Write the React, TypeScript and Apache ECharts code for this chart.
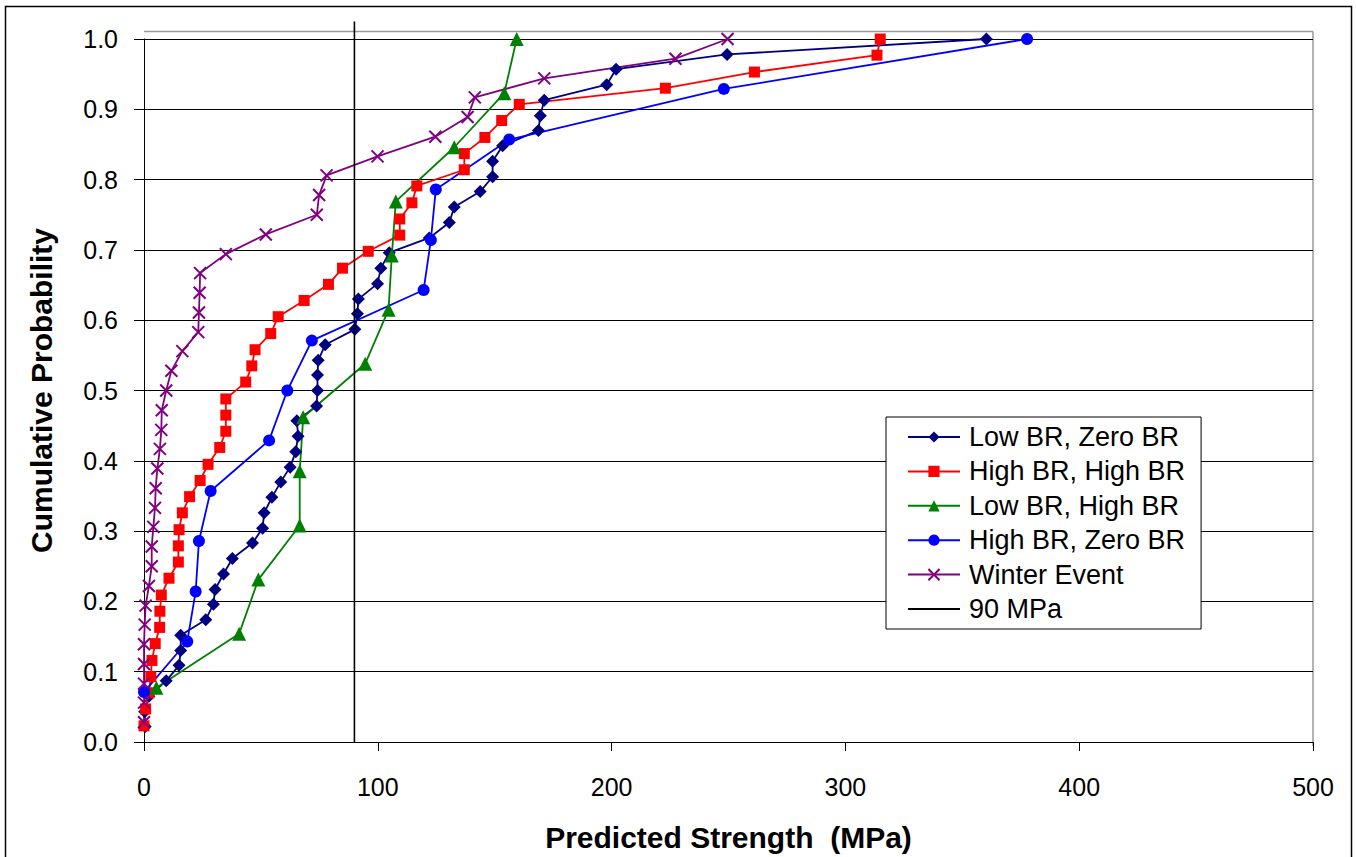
import React, { useEffect, useRef } from "react";
import * as echarts from "echarts";

const xTicks = ["0", "100", "200", "300", "400", "500"];

const lowZeroX = [0.5, 0.3, 2.1, 9.5, 15.0, 15.7, 15.7, 26.4, 29.7, 30.4, 34.0, 37.8, 46.4, 50.7, 51.4, 54.7, 58.5, 62.5, 64.9, 65.9, 65.4, 73.8, 74.2, 74.2, 74.5, 77.5, 90.2, 91.3, 91.7, 99.9, 101.3, 104.9, 122.0, 130.6, 132.7, 143.8, 149.1, 149.1, 153.4, 168.7, 169.5, 171.2, 197.9, 201.9, 249.4, 360.3];
const lowZeroP = [0.022, 0.043, 0.065, 0.087, 0.109, 0.130, 0.152, 0.174, 0.196, 0.217, 0.239, 0.261, 0.283, 0.304, 0.326, 0.348, 0.370, 0.391, 0.413, 0.435, 0.457, 0.478, 0.500, 0.522, 0.543, 0.565, 0.587, 0.609, 0.630, 0.652, 0.674, 0.696, 0.717, 0.739, 0.761, 0.783, 0.804, 0.826, 0.848, 0.870, 0.891, 0.913, 0.935, 0.957, 0.978, 1.000];

const highHighX = [0, 0.7, 2.1, 2.9, 3.4, 4.8, 6.7, 6.8, 7.4, 10.7, 14.7, 14.7, 15.0, 16.4, 19.5, 24.0, 27.4, 32.4, 35.0, 35.0, 35.0, 43.5, 46.1, 47.5, 54.2, 57.4, 68.5, 78.9, 84.9, 95.9, 109.4, 109.4, 114.6, 116.7, 137.0, 137.0, 145.8, 153.0, 160.5, 223.0, 261.1, 313.5, 314.9];
const highHighP = [0.023, 0.047, 0.070, 0.093, 0.116, 0.140, 0.163, 0.186, 0.209, 0.233, 0.256, 0.279, 0.302, 0.326, 0.349, 0.372, 0.395, 0.419, 0.442, 0.465, 0.488, 0.512, 0.535, 0.558, 0.581, 0.605, 0.628, 0.651, 0.674, 0.698, 0.721, 0.744, 0.767, 0.791, 0.814, 0.837, 0.860, 0.884, 0.907, 0.930, 0.953, 0.977, 1.000];

const lowHighX = [5.3, 40.7, 48.9, 66.6, 66.6, 68.1, 94.6, 104.6, 106.0, 107.7, 132.7, 154.1, 159.4];
const lowHighP = [0.077, 0.154, 0.231, 0.308, 0.385, 0.462, 0.538, 0.615, 0.692, 0.769, 0.846, 0.923, 1.000];

const highZeroX = [0, 18.5, 22.1, 23.5, 28.5, 53.5, 61.3, 71.8, 119.6, 122.7, 124.8, 156.2, 248.0, 377.7];
const highZeroP = [0.071, 0.143, 0.214, 0.286, 0.357, 0.429, 0.500, 0.571, 0.643, 0.714, 0.786, 0.857, 0.929, 1.000];

const winterX = [0, 0, 0, 0, 0, 0.3, 0.7, 2.1, 3.3, 3.3, 4.0, 4.7, 5.0, 5.7, 6.8, 7.4, 7.6, 9.5, 11.7, 16.4, 23.2, 23.5, 23.8, 24.0, 35.0, 52.1, 73.9, 74.9, 78.1, 99.9, 124.6, 138.4, 141.5, 171.2, 227.3, 249.6];
const winterP = [0.028, 0.056, 0.083, 0.111, 0.139, 0.167, 0.194, 0.222, 0.250, 0.278, 0.306, 0.333, 0.361, 0.389, 0.417, 0.444, 0.472, 0.500, 0.528, 0.556, 0.583, 0.611, 0.639, 0.667, 0.694, 0.722, 0.750, 0.778, 0.806, 0.833, 0.861, 0.889, 0.917, 0.944, 0.972, 1.000];

const refX = [90, 90];
const refP = [0, 1.025];

const names = ["Low BR, Zero BR", "High BR, High BR", "Low BR, High BR", "High BR, Zero BR", "Winter Event", "90 MPa"];

const zip = (xs: number[], ps: number[]) => xs.map((x, i) => [x, ps[i]]);

const FONT = "'Liberation Sans', Arial, Helvetica, sans-serif";

export default function App() {
  const ref = useRef<HTMLDivElement>(null);
  useEffect(() => {
    const chart = echarts.init(ref.current!, null, { renderer: "svg" });
    const mk = (name: string, xs: number[], ps: number[], color: string, symbol: string, size: number) => ({
      name,
      type: "line",
      data: zip(xs, ps),
      symbol,
      symbolSize: size,
      showSymbol: true,
      lineStyle: { color, width: 1.8 },
      itemStyle: { color },
      emphasis: { disabled: true },
      z: 3,
    });
    const option: any = {
      animation: false,
      textStyle: { fontFamily: FONT },
      grid: { left: 144, right: 43, top: 39, bottom: 111, containLabel: false },
      xAxis: {
        type: "value",
        min: 0,
        max: 500,
        interval: 100,
        name: "Predicted Strength  (MPa)",
        nameLocation: "middle",
        nameGap: 80,
        nameTextStyle: { fontSize: 30, fontWeight: "bold", color: "#000", fontFamily: FONT },
        axisLine: { show: true, onZero: false, lineStyle: { color: "#000", width: 1 } },
        axisTick: { show: true, length: 9, lineStyle: { color: "#000" } },
        axisLabel: { fontSize: 25, color: "#000", margin: 32, fontFamily: FONT, formatter: (v: number) => xTicks[Math.round(v / 100)] },
        splitLine: { show: false },
      },
      yAxis: {
        type: "value",
        min: 0,
        max: 1,
        interval: 0.1,
        name: "Cumulative Probability",
        nameLocation: "middle",
        nameGap: 88,
        nameRotate: 90,
        nameTextStyle: { fontSize: 30, fontWeight: "bold", color: "#000", fontFamily: FONT },
        axisLine: { show: true, lineStyle: { color: "#000", width: 1 } },
        axisTick: { show: true, length: 10, lineStyle: { color: "#000" } },
        axisLabel: { fontSize: 25, color: "#000", margin: 26, fontFamily: FONT, formatter: (v: number) => v.toFixed(1) },
        splitLine: { show: true, lineStyle: { color: "#000", width: 1 } },
      },
      legend: {
        orient: "vertical",
        left: 886,
        top: 417,
        padding: [6, 16, 6, 21],
        itemGap: 6.4,
        itemWidth: 52,
        itemHeight: 14,
        borderColor: "#000",
        borderWidth: 1,
        backgroundColor: "#fff",
        selectedMode: false,
        data: [names[0], names[1], names[2], names[3], names[4], { name: names[5], itemStyle: { opacity: 0 } }],
        textStyle: { fontSize: 27, lineHeight: 28, color: "#000", fontFamily: FONT, padding: [0, 0, 0, 4] },
      },
      graphic: [
        { type: "rect", shape: { x: 5.5, y: 6.5, width: 1346, height: 900 }, style: { fill: "none", stroke: "#000", lineWidth: 1.5 }, z: -10, silent: true },
        { type: "line", shape: { x1: 144, y1: 31.5, x2: 1313, y2: 31.5 }, style: { stroke: "#9a9a9a", lineWidth: 1.5 }, z: -5, silent: true },
        { type: "line", shape: { x1: 1313, y1: 31.5, x2: 1313, y2: 746 }, style: { stroke: "#9a9a9a", lineWidth: 1.5 }, z: -5, silent: true },
      ],
      series: [
        mk(names[0], lowZeroX, lowZeroP, "#000080", "diamond", 13),
        mk(names[1], highHighX, highHighP, "#FF0000", "rect", 11),
        mk(names[2], lowHighX, lowHighP, "#008000", "triangle", 14),
        mk(names[3], highZeroX, highZeroP, "#0000FF", "circle", 12),
        {
          ...mk(names[4], winterX, winterP, "#800080", "path://M0 0L10 10M10 0L0 10", 12),
          itemStyle: { color: "#800080", borderColor: "#800080", borderWidth: 2 },
        },
        {
          name: names[5],
          type: "line",
          data: zip(refX, refP),
          symbol: "none",
          clip: false,
          lineStyle: { color: "#000", width: 1.6 },
          itemStyle: { color: "#000" },
          emphasis: { disabled: true },
          z: 4,
        },
      ],
    };
    chart.setOption(option);
    return () => chart.dispose();
  }, []);
  return <div ref={ref} style={{ position: "fixed", left: 0, top: 0, width: 1356, height: 857, background: "#fff" }} />;
}
